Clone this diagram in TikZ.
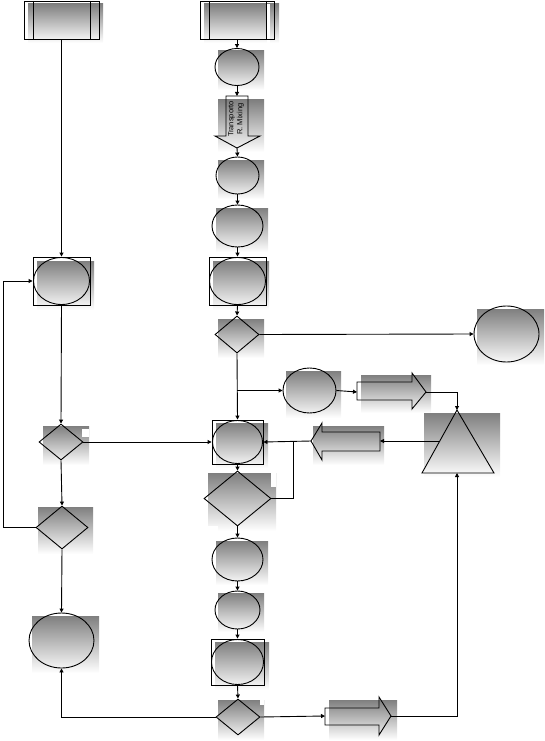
\documentclass[tikz,border=0pt]{standalone}
\usepackage{fontspec}
\setmainfont{Liberation Sans}
\usetikzlibrary{shapes.geometric,arrows.meta}
\definecolor{shade}{RGB}{112,112,112}
\begin{document}
\begin{tikzpicture}[x=1pt,y=-1pt, line width=0.9pt,
  el/.style={ellipse, draw, inner sep=0pt},
  dia/.style={diamond, draw, inner sep=0pt},
  box/.style={rectangle, draw, inner sep=0pt},
  arr/.style={-{Triangle[length=4pt,width=4pt]}}]
\useasboundingbox (0,0) rectangle (544,741);
% grey backdrops
\fill[shade] (28,4) rectangle (103,43);
\fill[shade] (204,4) rectangle (279,43);
\fill[white] (267,4) rectangle (269.5,43);
\fill[shade] (218,51) rectangle (264,90);
\fill[shade] (218,100) rectangle (264,152);
\fill[shade] (218,160) rectangle (264,199);
\fill[shade] (216,208) rectangle (268,252);
\fill[shade] (213,261) rectangle (269,310);
\fill[shade] (37,261) rectangle (94,310);
\fill[shade] (218,319) rectangle (264,358);
\fill[shade] (477,309) rectangle (544,365);
\fill[shade] (286,371) rectangle (341,418);
\fill[shade] (361,375) rectangle (431,413);
\fill[shade] (424,413) rectangle (500,477);
\fill[shade] (313,426) rectangle (384,465);
\fill[shade] (216,423) rectangle (268,468);
\fill[shade] (208,473) rectangle (276,531);
\fill[shade] (216,541) rectangle (268,585);
\fill[shade] (218,593) rectangle (264,632);
\fill[shade] (215,642) rectangle (269,690);
\fill[shade] (218,700) rectangle (264,740);
\fill[shade] (329,700) rectangle (397,740);
\fill[shade] (32,616) rectangle (99,673);
\fill[shade] (43,426) rectangle (89,465);
\fill[shade] (38,507) rectangle (93,554);
% white notches
\fill[white] (82,429) rectangle (89,437);
\fill[white] (271,473) rectangle (276,487);
\fill[white] (208,526) rectangle (218,531);
\fill[white] (260,700) rectangle (264,705);

% predefined processes
\node[box, minimum width=75pt, minimum height=38pt] (pp1) at (61.5,20) {};
\draw (33,1) -- (33,39) (90,1) -- (90,39);
\node[box, minimum width=74pt, minimum height=38pt] (pp2) at (237,20) {};
\draw (209,1) -- (209,39) (266,1) -- (266,39);

% right column
\node[el, minimum width=44pt, minimum height=37pt] (c1) at (237,67) {};
\draw (226,96) -- (248,96) -- (248,136) -- (260,136) -- (237,148) -- (215,136) -- (226,136) -- cycle;
\coordinate (trtop) at (237,96);
\coordinate (trbot) at (237,148);
\node[rotate=90, font=\fontsize{7.5}{9}\selectfont, align=center, inner sep=0pt] (trtext) at (236,119) {Transporto\\R. Mixing};
\node[el, minimum width=43pt, minimum height=37pt] (c2) at (237.5,175.5) {};
\node[el, minimum width=51pt, minimum height=42pt] (c3) at (237.5,226) {};
\node[box, minimum width=57pt, minimum height=48pt] (b7) at (237.5,281) {};
\node[el, minimum width=56pt, minimum height=47pt] (b7e) at (237.5,281) {};
\node[dia, minimum width=44pt, minimum height=37pt] (d1) at (237,334.5) {};
\node[el, minimum width=65pt, minimum height=56pt] (bigc) at (506.5,334) {};
\node[el, minimum width=53pt, minimum height=45pt] (c4) at (309.5,390.5) {};
\draw (357,382) -- (412,382) -- (412,373) -- (426,392) -- (412,409) -- (412,400) -- (357,400) -- cycle;
\coordinate (ra1tail) at (357,392);
\coordinate (ra1tip) at (426,392);
\draw (457,410) -- (494,473) -- (422,473) -- cycle;
\coordinate (tritop) at (457,410);
\coordinate (tribase) at (457,473);
\coordinate (trileft) at (439.5,441);
\draw (380,432) -- (322,432) -- (322,423) -- (311,441) -- (322,460) -- (322,451) -- (380,451) -- cycle;
\coordinate (latail) at (380,441);
\coordinate (latip) at (311,441);
\node[box, minimum width=51pt, minimum height=44pt] (b5) at (237.5,442) {};
\node[el, minimum width=50pt, minimum height=43pt] (b5e) at (237.5,442) {};
\node[dia, minimum width=67pt, minimum height=55pt] (d3) at (237.5,498.5) {};
\node[el, minimum width=51pt, minimum height=43pt] (c6) at (237.5,559.5) {};
\node[el, minimum width=45pt, minimum height=38pt] (c7) at (237.5,610) {};
\node[box, minimum width=53pt, minimum height=46pt] (b8) at (237.5,662) {};
\node[el, minimum width=52pt, minimum height=45pt] (b8e) at (237.5,662) {};
\node[dia, minimum width=44pt, minimum height=36pt] (d4) at (238,717) {};
\draw (325,708) -- (379,708) -- (379,697) -- (391,716) -- (379,735) -- (379,725) -- (325,725) -- cycle;
\coordinate (ra2tail) at (325,716);
\coordinate (ra2tip) at (391,716);

% left column
\node[box, minimum width=57pt, minimum height=48pt] (bl) at (61.5,281) {};
\node[el, minimum width=56pt, minimum height=47pt] (ble) at (61.5,281) {};
\node[dia, minimum width=44pt, minimum height=36pt] (dl1) at (61,442) {};
\node[dia, minimum width=52pt, minimum height=43pt] (dl2) at (62,527.5) {};
\node[el, minimum width=65pt, minimum height=55pt] (c9) at (61.5,640.5) {};
\coordinate (loopl) at (3,527.5);
\coordinate (j1) at (293,441);

% connectors
\draw[arr] (pp1.south) -- (bl.north);
\draw[arr] (pp2.south) -- (c1.north);
\draw[arr] (c1.south) -- (trtop);
\draw[arr] (trbot) -- (c2.north);
\draw[arr] (c2.south) -- (c3.north);
\draw[arr] (c3.south) -- (b7.north);
\draw[arr] (b7.south) -- (d1.north);
\draw[arr] (d1.east) -- (bigc.west);
\draw[arr] (d1.south) -- (b5.north);
\draw[arr] (d1.south |- c4.west) -- (c4.west);
\draw[arr] (c4.east) -- (ra1tail);
\draw[arr] (ra1tip) -| (tritop);
\draw[arr] (trileft) -- (latail);
\draw[arr] (latip) -- (b5.east);
\draw (j1) |- (d3.east);
\draw[arr] (dl1.east) -- (b5.west);
\draw[arr] (b5.south) -- (d3.north);
\draw[arr] (d3.south) -- (c6.north);
\draw[arr] (c6.south) -- (c7.north);
\draw[arr] (c7.south) -- (b8.north);
\draw[arr] (b8.south) -- (d4.north);
\draw[arr] (d4.east) -- (ra2tail);
\draw[arr] (ra2tip) -| (tribase);
\draw[arr] (d4.west) -| (c9.south);
\draw[arr] (bl.south) -- (dl1.north);
\draw[arr] (dl1.south) -- (dl2.north);
\draw[arr] (dl2.south) -- (c9.north);
\draw[arr] (dl2.west) -- (loopl) |- (bl.west);
\end{tikzpicture}
\end{document}
